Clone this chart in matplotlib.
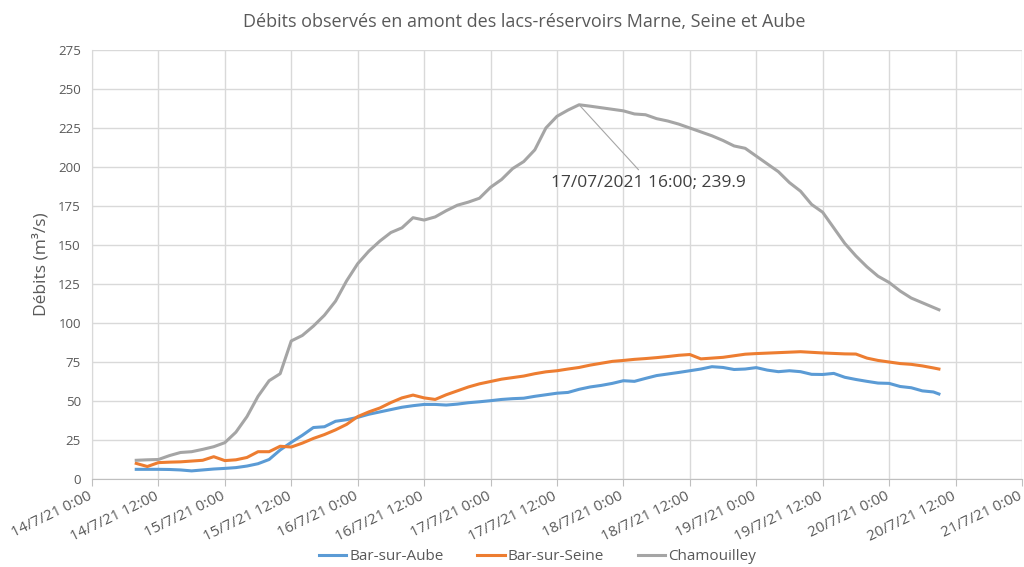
import numpy as np
import pandas as pd
import matplotlib
matplotlib.use("Agg")
import matplotlib.pyplot as plt

# hours since 14/7/21 0:00
hours = list(range(8, 153, 2)) + [153]

aube = [6.2, 6.2, 6.2, 6.1, 5.8, 5.2, 5.8, 6.4, 6.8, 7.3, 8.3, 9.8, 12.5, 18.6,
        23.5, 28, 33, 33.5, 37, 38, 39.5, 41.5, 43, 44.5, 46, 47, 47.8, 47.8,
        47.4, 48, 48.9, 49.5, 50.2, 51, 51.5, 51.8, 53, 54, 55, 55.5, 57.5, 59,
        60, 61.3, 63, 62.6, 64.5, 66.3, 67.3, 68.3, 69.4, 70.5, 72, 71.5, 70.2,
        70.5, 71.4, 69.8, 68.8, 69.4, 68.8, 67.1, 67, 67.7, 65.2, 63.8, 62.6,
        61.5, 61.3, 59.3, 58.5, 56.5, 55.8, 54.5]

seine = [10, 8, 10.5, 10.8, 11, 11.5, 12, 14.3, 11.8, 12.3, 13.8, 17.5, 17.5,
         21, 20.5, 23, 26, 28.5, 31.5, 35, 40, 43, 45.5, 49, 52, 53.8, 52, 51,
         54, 56.5, 59, 61, 62.5, 64, 65, 66, 67.5, 68.7, 69.4, 70.5, 71.5, 73,
         74.2, 75.4, 76, 76.7, 77.2, 77.8, 78.5, 79.3, 79.8, 77, 77.5, 78, 79,
         80, 80.4, 80.7, 81, 81.3, 81.6, 81.2, 80.8, 80.5, 80.2, 80.1, 77.5, 76,
         75, 74, 73.5, 72.5, 71.2, 70.5]

chamouilley = [12, 12.3, 12.5, 15, 17, 17.5, 19, 20.7, 23.3, 30, 40, 53, 63,
               67.5, 88.5, 92, 98, 105, 114, 127, 138, 146, 152.5, 158, 161,
               167.5, 166, 168, 172, 175.5, 177.5, 180, 187, 192, 199, 203.5,
               211, 225, 232.5, 236.5, 239.9, 239, 238, 237, 236, 234, 233.5,
               231, 229.5, 227.5, 225, 222.5, 220, 217, 213.5, 212, 207, 202,
               197, 190, 184.5, 176, 171, 161, 151, 143, 136, 130, 126, 120.5,
               116, 113, 110, 108.5]

start = pd.Timestamp("2021-07-14 00:00")
times = start + pd.to_timedelta(hours, unit="h")
ticks = pd.date_range("2021-07-14 00:00", "2021-07-21 00:00", freq="12h")
tick_labels = [f"{t.day}/{t.month}/{t:%y} {t.hour}:{t:%M}" for t in ticks]

peak_time = pd.Timestamp("2021-07-17 16:00")
peak_value = 239.9

plt.rcParams['font.family'] = ['Open Sans', 'DejaVu Sans']
grey_text = "#595959"

fig = plt.figure(figsize=(10.24, 5.67), dpi=100)
ax = fig.add_axes([0.0898, 0.1552, 0.9082, 0.7566])

ax.plot(times, aube, color="#5B9BD5", lw=2.2, label="Bar-sur-Aube")
ax.plot(times, seine, color="#ED7D31", lw=2.2, label="Bar-sur-Seine")
ax.plot(times, chamouilley, color="#A5A5A5", lw=2.2, label="Chamouilley")

ax.set_xlim(ticks[0], ticks[-1])
ax.set_ylim(0, 275)
ax.set_yticks(np.arange(0, 276, 25))
ax.set_xticks(ticks)
ax.set_xticklabels([])
# rotated date labels, placed by hand so the last one stays inside the figure
for t, lab in zip(ticks, tick_labels):
    ax.annotate(lab, xy=(t, 0), xycoords=("data", "axes fraction"),
                xytext=(-3, -7), textcoords="offset points",
                rotation=26, rotation_mode="anchor", ha="right", va="top",
                fontsize=10.8, color=grey_text, annotation_clip=False)

ax.grid(True, color="#d9d9d9", lw=1)
ax.set_axisbelow(True)
for s in ["top", "right"]:
    ax.spines[s].set_visible(False)
ax.spines["left"].set_color("#d9d9d9")
ax.spines["bottom"].set_color("#bfbfbf")
ax.tick_params(axis="y", length=0, labelsize=9.5, colors=grey_text, pad=8)
ax.tick_params(axis="x", length=5, color="#bfbfbf")

ax.set_ylabel("Débits (m³/s)", fontsize=12.5, color=grey_text, labelpad=6)

ax.annotate(f"17/07/2021 16:00; {peak_value}", xy=(peak_time, peak_value),
            xytext=(start + pd.Timedelta(hours=83.0), 190),
            fontsize=12.5, color="#404040", ha="left", va="center",
            arrowprops=dict(arrowstyle="-", color="#a6a6a6", lw=0.8,
                            relpos=(0.47, 1.0), shrinkA=2, shrinkB=0))

fig.text(0.512, 0.962, "Débits observés en amont des lacs-réservoirs Marne, Seine et Aube",
         ha="center", va="center", fontsize=13, color=grey_text)

fig.legend(loc="center", bbox_to_anchor=(0.525, 0.018), ncol=3, frameon=False,
           fontsize=11, labelcolor=grey_text, handlelength=1.8,
           columnspacing=2.2, handletextpad=0.2)

fig.savefig("out.png", dpi=100)
